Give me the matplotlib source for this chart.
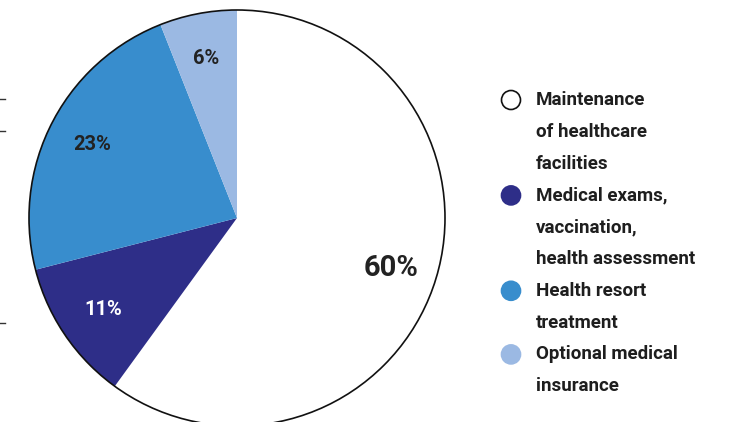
import matplotlib
matplotlib.use("Agg")
import matplotlib.pyplot as plt
from matplotlib.patches import Circle

labels = ["Maintenance\nof healthcare\nfacilities",
          "Medical exams,\nvaccination,\nhealth assessment",
          "Health resort\ntreatment",
          "Optional medical\ninsurance"]
shares = [60, 11, 23, 6]
colors = ["#FFFFFF", "#2E2E88", "#388DCD", "#9BB9E3"]
pct_colors = ["#222222", "#FFFFFF", "#222222", "#222222"]
pct_sizes = [21, 14.5, 14.5, 14.5]

font = ["Roboto", "DejaVu Sans"]

fig = plt.figure(figsize=(7.29, 4.22), dpi=100)
ax = fig.add_axes([0, 0, 1, 1])

cx, cy, r = 237, 204, 208
wedges, texts, autotexts = ax.pie(
    shares, colors=colors, startangle=90, counterclock=False,
    center=(cx, cy), radius=r, frame=True,
    autopct="%d%%", pctdistance=0.78,
    wedgeprops=dict(linewidth=0))
for t, c, s in zip(autotexts, pct_colors, pct_sizes):
    t.set_color(c)
    t.set_fontsize(s)
    t.set_fontweight("bold")
    t.set_family(font)
ax.add_patch(Circle((cx, cy), r, fill=False, edgecolor="#111111", linewidth=1.2))
ax.set_xlim(0, 729)
ax.set_ylim(0, 422)
ax.set_aspect("equal")
ax.axis("off")

# legend, drawn by hand
line_h = 31.8
y = 422 - 100
for lab, col in zip(labels, colors):
    ax.add_patch(Circle((511, y), 9.5, facecolor=col,
                        edgecolor="#111111" if col == "#FFFFFF" else col,
                        linewidth=1.2))
    for i, line in enumerate(lab.split("\n")):
        ax.text(536, y - i * line_h, line, fontsize=13.5, fontweight="bold",
                family=font, color="#1E1E1E", va="center", ha="left")
    y -= line_h * len(lab.split("\n"))

# small tick marks at the left edge
for ty in [99, 131, 323]:
    ax.plot([0, 5], [422 - ty, 422 - ty], color="#333333", linewidth=1)

fig.savefig("out.png", dpi=100)
